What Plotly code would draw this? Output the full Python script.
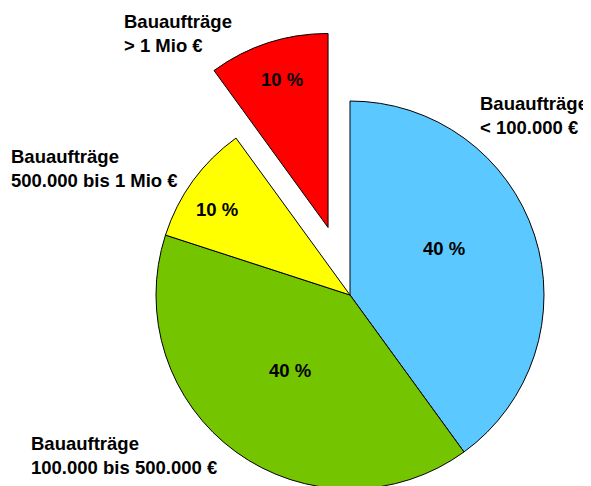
import math
import plotly.graph_objects as go

# ---- data ----
categories = ["Bauaufträge < 100.000 €", "Bauaufträge 100.000 bis 500.000 €",
              "Bauaufträge 500.000 bis 1 Mio €", "Bauaufträge > 1 Mio €"]
label_lines = [["Bauaufträge", "< 100.000 €"],
               ["Bauaufträge", "100.000 bis 500.000 €"],
               ["Bauaufträge", "500.000 bis 1 Mio €"],
               ["Bauaufträge", "> 1 Mio €"]]
shares = [40, 40, 10, 10]
pct_text = ["40 %", "40 %", "10 %", "10 %"]
colors = ["#5BC8FF", "#74C400", "#FFFF00", "#FF0000"]
pulled = [False, False, False, True]

# ---- layout geometry (screen px; page body has an 8px margin) ----
W, H = 591, 486
OFF = 8
R = 194            # pie radius in px
CX, CY = 350, 295  # centre on screen
PULL = 0.366
FONT = "Liberation Sans, Arial, sans-serif"
FS = 18.5
TRANSP = "rgba(0,0,0,0)"

label_pos = [(478, 91), (29, 431), (9, 144), (122, 9)]          # left, top
pct_pos = [(443.5, 248.5), (289.5, 370.5), (217, 209), (282, 79)]  # centres


def px(x, y):
    return (x - OFF) / W, 1 - (y - OFF) / H


def domain(cx, cy, r):
    x0, y1 = px(cx - r, cy + r)
    x1, y0 = px(cx + r, cy - r)
    return dict(x=[max(0, x0), min(1, x1)], y=[max(0, y1), min(1, y0)])


fig = go.Figure()

# main pie (non pulled slices)
fig.add_trace(go.Pie(
    labels=categories, values=shares, sort=False, direction="clockwise", rotation=0,
    marker=dict(colors=[TRANSP if p else c for c, p in zip(colors, pulled)],
                line=dict(color="black", width=[0 if p else 1 for p in pulled])),
    textinfo="none", domain=domain(CX, CY, R), hoverinfo="skip", showlegend=False,
))

# pulled slice(s): same pie, shifted along the slice's mid angle
total = sum(shares)
cum = 0
for i, v in enumerate(shares):
    if pulled[i]:
        mid = (cum + v / 2) / total * 2 * math.pi
        dx = R * PULL * math.sin(mid)
        dy = -R * PULL * math.cos(mid)
        fig.add_trace(go.Pie(
            labels=categories, values=shares, sort=False, direction="clockwise", rotation=0,
            marker=dict(colors=[colors[j] if j == i else TRANSP for j in range(len(shares))],
                        line=dict(color="black", width=[1 if j == i else 0 for j in range(len(shares))])),
            textinfo="none", domain=domain(CX + dx, CY + dy, R), hoverinfo="skip", showlegend=False,
        ))
    cum += v

# percentage labels
for t, (lx, ly) in zip(pct_text, pct_pos):
    ax, ay = px(lx, ly)
    fig.add_annotation(
        text=t, xref="paper", yref="paper", x=ax, y=ay,
        xanchor="center", yanchor="middle", showarrow=False,
        font=dict(family=FONT, size=FS, color="black", weight="bold"),
    )

# category labels (left, top on screen)
for lines, (lx, ly) in zip(label_lines, label_pos):
    ax, ay = px(lx, ly)
    fig.add_annotation(
        text="<br>".join(lines), xref="paper", yref="paper",
        x=ax, y=ay, xanchor="left", yanchor="top", align="left",
        showarrow=False, font=dict(family=FONT, size=FS, color="black", weight="bold"),
    )

fig.update_layout(width=W, height=H, margin=dict(l=0, r=0, t=0, b=0),
                  paper_bgcolor="white", plot_bgcolor="white", showlegend=False)

fig.write_html("out.html")
